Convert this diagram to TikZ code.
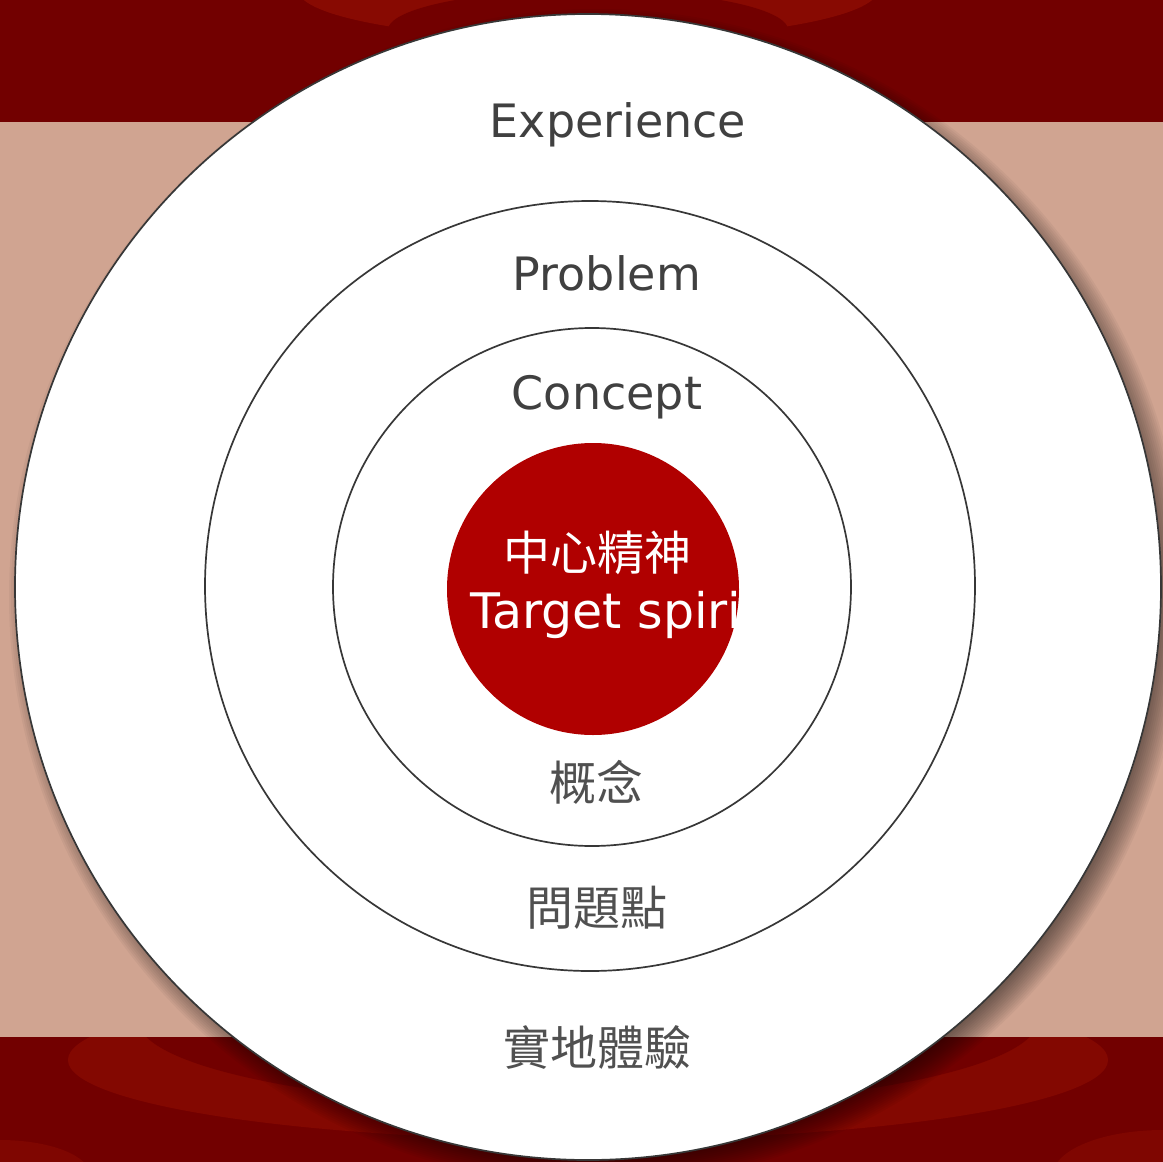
\documentclass[tikz,border=0pt]{standalone}
\usepackage{fontspec}
\setmainfont{DejaVu Sans}
\newfontfamily\cjk{Noto Sans CJK TC}
\definecolor{bandred}{RGB}{114,0,0}
\definecolor{bandlight}{RGB}{136,10,2}
\definecolor{pinkbg}{RGB}{208,164,145}
\definecolor{centerred}{RGB}{176,0,0}
\definecolor{labelgray}{RGB}{64,64,64}
\definecolor{cjkgray}{RGB}{80,80,80}
\definecolor{ringline}{RGB}{55,55,55}
\begin{document}
\begin{tikzpicture}[x=0.5pt,y=-0.5pt,
  ring/.style={circle,draw=ringline,line width=0.85pt,fill=white,inner sep=0pt,outer sep=0pt},
  latinlabel/.style={anchor=base,text=labelgray,font=\fontsize{23}{27}\selectfont,inner sep=0pt},
  cjklabel/.style={anchor=base,text=cjkgray,font=\cjk\fontsize{23.5}{28}\selectfont,inner sep=0pt},
  centerlabel/.style={anchor=base,text=white,inner sep=0pt}]
\useasboundingbox (0,0) rectangle (1163,1162);
% background bands
\fill[pinkbg] (0,0) rectangle (1163,1162);
\fill[bandred] (0,0) rectangle (1163,122);
\fill[bandred] (0,1037) rectangle (1163,1162);
% lighter swooshes in the bands
\begin{scope}
  \clip (0,0) rectangle (1163,122);
  \fill[bandlight] (588,-10) ellipse[x radius=290, y radius=50];
  \fill[bandred] (588,30) ellipse[x radius=200, y radius=40];
\end{scope}
\begin{scope}
  \clip (0,1037) rectangle (1163,1162);
  \fill[bandlight,opacity=0.8] (588,1060) ellipse[x radius=520, y radius=80];
  \fill[bandred] (588,1020) ellipse[x radius=450, y radius=88];
  \fill[bandlight,opacity=0.6] (0,1175) ellipse[x radius=90, y radius=35];
  \fill[bandlight,opacity=0.6] (1163,1175) ellipse[x radius=110, y radius=45];
\end{scope}
% soft shadow of the outer disc
\foreach \i in {0,...,14}{
  \fill[black,opacity=0.04] (597,597) circle[radius={588-2*\i}];
}
% rings
\node[ring,minimum size=573pt] (outer) at (588,587) {};
\node[ring,minimum size=385pt] (middle) at (590,586) {};
\node[ring,minimum size=259pt] (inner) at (592,587) {};
\node[circle,fill=centerred,inner sep=0pt,outer sep=0pt,minimum size=146pt] (core) at (593,589) {};
% labels
\node[latinlabel] (experience) at (618,137) {Experience};
\node[latinlabel] (problem) at (607,290) {Problem};
\node[latinlabel] (concept) at (607,409) {Concept};
\node[centerlabel,font=\cjk\fontsize{23.5}{28}\selectfont] (zhcore) at (597,570) {中心精神};
\begin{scope}
  \clip (593,589) circle[radius=146];
  \node[centerlabel,anchor=base west,font=\fontsize{24.5}{28}\selectfont] (encore) at (470,628) {Target spirit};
\end{scope}
\node[cjklabel] (zhconcept) at (596,800) {概念};
\node[cjklabel] (zhproblem) at (597,925) {問題點};
\node[cjklabel] (zhexperience) at (597,1065) {實地體驗};
\end{tikzpicture}
\end{document}
